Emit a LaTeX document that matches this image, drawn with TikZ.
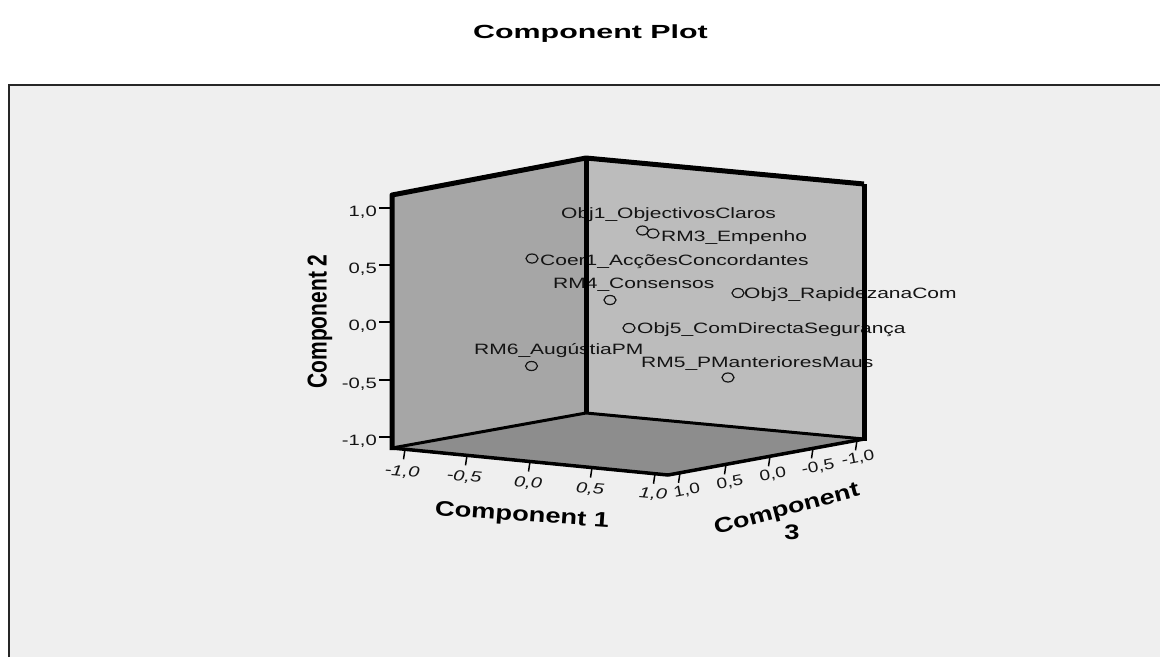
\documentclass[tikz,border=0pt]{standalone}
\usepackage{fontspec}
\setmainfont{Liberation Sans}
\usepackage{graphicx}
\usetikzlibrary{shapes.geometric}
\definecolor{bgpanel}{HTML}{EFEFEF}
\definecolor{wallL}{HTML}{A6A6A6}
\definecolor{wallR}{HTML}{BCBCBC}
\definecolor{floorc}{HTML}{8D8D8D}
\definecolor{ink}{HTML}{141414}
\newcommand\hst[2]{\scalebox{#1}[1]{#2}}
\begin{document}
\begin{tikzpicture}[x=1pt,y=-1pt,
  lbl/.style={inner sep=0pt, font=\fontsize{15}{15}\selectfont, text=ink},
  ticklbl/.style={inner sep=0pt, font=\fontsize{15}{15}\selectfont, text=ink},
  axtitle/.style={inner sep=0pt, font=\fontsize{21}{21}\selectfont\bfseries, text=black},
  ptmark/.style={ellipse, draw=ink, line width=1.2pt, minimum width=12pt, minimum height=9pt, inner sep=0pt},
  edgeheavy/.style={draw=black, line width=5pt, line join=round},
  edgemid/.style={draw=black, line width=3.5pt, line join=round},
  tickline/.style={draw=black, line width=1.5pt}]
\useasboundingbox (0,0) rectangle (1160,657);
\fill[white] (0,0) rectangle (1160,657);
% panel
\fill[bgpanel] (9,85) rectangle (1160,657);
\draw[line width=1.8pt, draw=black!85] (9,657) -- (9,85) -- (1160,85);
% title
\node[inner sep=0pt, anchor=base, font=\fontsize{19}{19}\selectfont\bfseries] (title) at (590.5,38) {\hst{1.6}{Component Plot}};
% faces
\fill[wallL] (392,195) -- (586,158) -- (586,413) -- (392,448) -- cycle;
\fill[wallR] (586,158) -- (864,184) -- (864,439) -- (586,413) -- cycle;
\fill[floorc] (392,448) -- (586,413) -- (864,439) -- (668,475) -- cycle;
% points
\node[ptmark] (p1) at (642.5,230.5) {};
\node[ptmark] (p2) at (653,233.5) {};
\node[ptmark] (p3) at (532,258.5) {};
\node[ptmark] (p4) at (610,300) {};
\node[ptmark] (p5) at (738,293) {};
\node[ptmark] (p6) at (629,328) {};
\node[ptmark] (p7) at (531.5,366) {};
\node[ptmark] (p8) at (728,377.5) {};
% point labels
\node[lbl, anchor=base west] (l1) at (561,218) {\hst{1.4}{Obj1\_ObjectivosClaros}};
\node[lbl, anchor=base west] (l2) at (661,241) {\hst{1.4}{RM3\_Empenho}};
\node[lbl, anchor=base west] (l3) at (540,265) {\hst{1.4}{Coer1\_AcçõesConcordantes}};
\node[lbl, anchor=base west] (l4) at (553,288) {\hst{1.4}{RM4\_Consensos}};
\node[lbl, anchor=base west] (l5) at (744,298) {\hst{1.4}{Obj3\_RapidezanaCom}};
\node[lbl, anchor=base west] (l6) at (637,333) {\hst{1.4}{Obj5\_ComDirectaSegurança}};
\node[lbl, anchor=base west] (l7) at (474,354) {\hst{1.4}{RM6\_AugústiaPM}};
\node[lbl, anchor=base west] (l8) at (641,367) {\hst{1.4}{RM5\_PManterioresMaus}};
% cube edges (drawn over labels)
\draw[edgeheavy] (392,450) -- (392,195) -- (586,158) -- (864,184);
\draw[edgeheavy] (586,158) -- (586,413);
\draw[edgeheavy] (864,184) -- (864,441);
\draw[draw=black, line width=3pt] (392,448) -- (586,413) -- (864,439);
\draw[edgemid] (392,448) -- (668,475) -- (864,439);
% component 2 axis
\foreach \yy/\tx in {208/{1,0},265/{0,5},322/{0,0},380/{-0,5},437/{-1,0}}{
  \draw[tickline] (379,\yy) -- (392,\yy);
  \node[ticklbl, anchor=base east] at (377,\yy+8.7) {\hst{1.35}{\tx}};
}
\node[axtitle, rotate=90] (t2) at (320,321.5) {\scalebox{1}[1.3]{Component 2}};
% component 1 axis
\foreach \xx/\tx/\lx/\ly in {405/{-1,0}/402/472, 467/{-0,5}/464/477, 530/{0,0}/528/483, 592/{0,5}/590/489, 655/{1,0}/653/494}{
  \pgfmathsetmacro\ey{448+(\xx-392)*27/276}
  \draw[tickline] (\xx,\ey) -- (\xx-1.5,\ey+10);
  \node[ticklbl, rotate=-5, font=\fontsize{15}{15}\selectfont\itshape] at (\lx,\ly) {\hst{1.35}{\tx}};
}
\node[axtitle, rotate=-4] (t1) at (522,516) {\hst{1.3}{Component 1}};
% component 3 axis
\foreach \xx/\tx/\lx/\ly in {680/{1,0}/687/491, 726/{0,5}/730/483, 770/{0,0}/773/475, 813/{-0,5}/818/467, 857/{-1,0}/858/458}{
  \pgfmathsetmacro\ey{475-(\xx-668)*36/196}
  \draw[tickline] (\xx,\ey) -- (\xx-1.5,\ey+10);
  \node[ticklbl, rotate=11] at (\lx,\ly) {\hst{1.28}{\tx}};
}
\node[axtitle, rotate=15] (t3) at (787,510) {\hst{1.28}{Component}};
\node[axtitle] (t3b) at (792,532) {\hst{1.3}{3}};
\end{tikzpicture}
\end{document}
